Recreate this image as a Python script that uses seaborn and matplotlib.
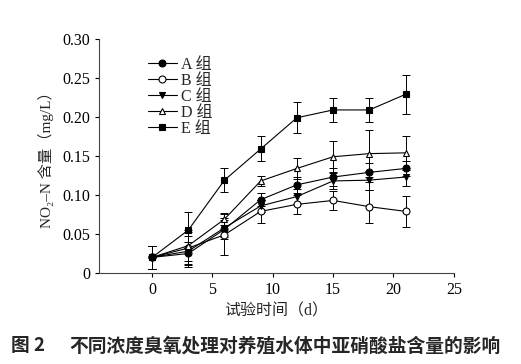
import numpy as np
import pandas as pd
import matplotlib
matplotlib.use("Agg")
import matplotlib.pyplot as plt
import seaborn as sns

# 数据：试验时间（d）与各组 NO2-N 含量（mg/L）
days = [0, 3, 6, 9, 12, 15, 18, 21]
groups = ["A 组", "B 组", "C 组", "D 组", "E 组"]

a_mean = [0.020, 0.025, 0.056, 0.094, 0.113, 0.123, 0.129, 0.134]
b_mean = [0.020, 0.032, 0.049, 0.079, 0.088, 0.093, 0.085, 0.079]
c_mean = [0.020, 0.028, 0.058, 0.086, 0.098, 0.118, 0.119, 0.123]
d_mean = [0.020, 0.035, 0.069, 0.118, 0.134, 0.149, 0.153, 0.154]
e_mean = [0.020, 0.055, 0.119, 0.159, 0.199, 0.209, 0.209, 0.229]

a_err = [0.015, 0.015, 0.012, 0.008, 0.010, 0.012, 0.012, 0.010]
b_err = [0.015, 0.020, 0.026, 0.015, 0.012, 0.012, 0.021, 0.020]
c_err = [0.015, 0.020, 0.012, 0.008, 0.010, 0.010, 0.012, 0.012]
d_err = [0.015, 0.020, 0.008, 0.006, 0.014, 0.020, 0.030, 0.022]
e_err = [0.015, 0.023, 0.015, 0.016, 0.020, 0.015, 0.015, 0.025]

means = [a_mean, b_mean, c_mean, d_mean, e_mean]
errs = [a_err, b_err, c_err, d_err, e_err]

markers = {"A 组": "o", "B 组": "o", "C 组": "v", "D 组": "^", "E 组": "s"}
faces = {"A 组": "black", "B 组": "white", "C 组": "black", "D 组": "white", "E 组": "black"}

rows = []
for g, m, e in zip(groups, means, errs):
    for d, v, s in zip(days, m, e):
        rows.append({"day": d, "value": v, "err": s, "group": g})
df = pd.DataFrame(rows)

sns.set_style("ticks")
plt.rcParams["font.family"] = ["Liberation Serif", "Noto Sans CJK SC", "DejaVu Sans"]

fig = plt.figure(figsize=(5.21, 3.64), dpi=100)
ax = fig.add_axes([0.19, 0.25, 0.681, 0.643])

# 误差线
for g in groups:
    sub = df[df["group"] == g]
    ax.errorbar(sub["day"], sub["value"], yerr=sub["err"], fmt="none",
                ecolor="black", elinewidth=0.7, capsize=3, capthick=0.7, zorder=2)

for g in groups:
    sub = df[df["group"] == g]
    sns.lineplot(data=sub, x="day", y="value", ax=ax, color="black",
                 linewidth=0.8, marker=markers[g], markersize=5,
                 markerfacecolor=faces[g], markeredgecolor="black",
                 markeredgewidth=0.8, label=g, errorbar=None, zorder=3)

ax.set_xlim(-4.4, 25)
ax.set_ylim(0, 0.30)
ax.set_xticks([0, 5, 10, 15, 20, 25])
ax.set_yticks([0, 0.05, 0.10, 0.15, 0.20, 0.25, 0.30])
ax.set_yticklabels(["0", "0.05", "0.10", "0.15", "0.20", "0.25", "0.30"])
ax.tick_params(labelsize=11.5, length=3, width=0.8, colors="black")
for sp in ["left", "bottom"]:
    ax.spines[sp].set_linewidth(0.8)
    ax.spines[sp].set_color("#444444")
sns.despine(ax=ax)

ax.set_xlabel("试验时间（d）", fontsize=11.5)
ax.set_ylabel("NO₂–N 含量（mg/L）", fontsize=11, labelpad=6)

leg = ax.legend(loc="upper left", bbox_to_anchor=(0.12, 0.95), frameon=False,
                fontsize=11.5, handlelength=1.8, handletextpad=0.25,
                labelspacing=0.0, borderaxespad=0)

fig.text(0.022, 0.035, "图 2", fontsize=13.5, fontweight="bold",
         family=["Noto Sans CJK SC"])
fig.text(0.134, 0.035, "不同浓度臭氧处理对养殖水体中亚硝酸盐含量的影响",
         fontsize=13.5, fontweight="bold", family=["Noto Sans CJK SC"])

fig.savefig("out.png", dpi=100)
